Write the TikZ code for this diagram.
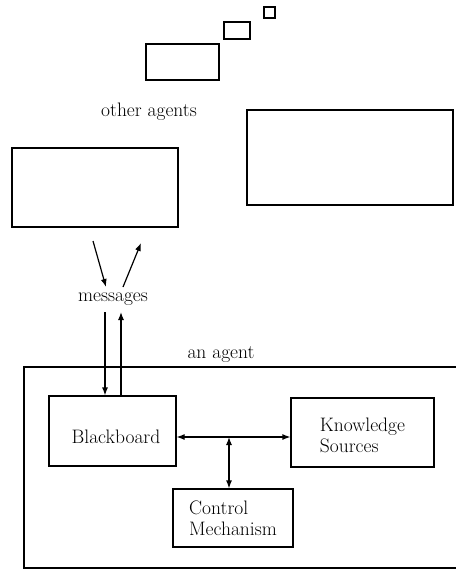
\documentclass[tikz,border=0pt]{standalone}
\usetikzlibrary{arrows.meta}
\begin{document}
\begin{tikzpicture}[x=1pt,y=-1pt,
  box/.style={draw, line width=1.2pt, inner sep=0pt},
  txt/.style={font=\fontsize{19.5}{21}\selectfont, inner sep=0pt},
  arr/.style={line width=1.2pt, -{Latex[length=8pt,width=6pt]}},
  darr/.style={line width=1.2pt, {Latex[length=8pt,width=6pt]}-{Latex[length=8pt,width=6pt]}}]
\useasboundingbox (0,0) rectangle (455,572);
% other agents
\node[box, minimum width=11pt, minimum height=11pt] (b1) at (269.5,12.5) {};
\node[box, minimum width=26pt, minimum height=17pt] (b2) at (237,30.5) {};
\node[box, minimum width=73pt, minimum height=36pt] (b3) at (182.5,62) {};
\node[box, minimum width=206pt, minimum height=95pt] (b4) at (350,157.5) {};
\node[box, minimum width=166pt, minimum height=79pt] (b5) at (95,187.5) {};
\node[txt] (other) at (149,112) {other agents};
% messages
\node[txt] (msg) at (113,299) {messages};
\coordinate (m1s) at (93,241);
\coordinate (m1e) at (106,287);
\coordinate (m2s) at (123,287);
\coordinate (m2e) at (141,243);
\draw[arr] (m1s) -- (m1e);
\draw[arr] (m2s) -- (m2e);
% agent
\draw[line width=1.2pt] (460,367) -- (24,367) -- (24,568) -- (460,568);
\node[txt] (agent) at (221,354) {an agent};
\node[box, txt, text height=25pt, text depth=0pt, minimum width=127pt, minimum height=70pt] (bb) at (112.5,431) {\hspace*{7pt}Blackboard};
\node[box, minimum width=143pt, minimum height=69pt] (ks) at (362.5,432.5) {};
\node[txt, align=left] (kst) at (362.5,435) {Knowledge\\Sources};
\node[box, txt, align=left, minimum width=120pt, minimum height=58pt] (cm) at (233,518) {Control\\Mechanism};
% messages <-> blackboard
\coordinate (v1) at (105,312);
\coordinate (v2) at (121,312);
\draw[arr] (v1) -- (bb.north -| v1);
\draw[arr] (bb.north -| v2) -- (v2);
% internal
\coordinate (j) at (229,437);
\draw[darr] (bb.east |- j) -- (ks.west |- j);
\draw[darr] (j) -- (cm.north -| j);
\end{tikzpicture}
\end{document}
